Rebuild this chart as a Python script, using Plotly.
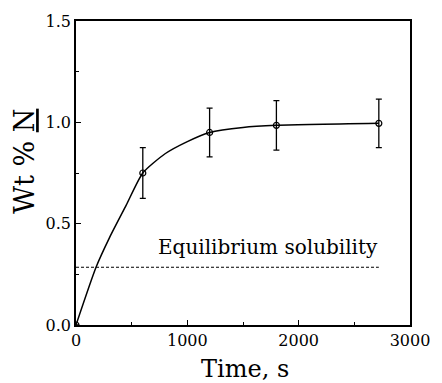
import plotly.graph_objects as go

# Measured data
time_s = [0, 600, 1200, 1800, 2720]
wt_n = [0.0, 0.75, 0.95, 0.985, 0.995]
err = [0.0, 0.125, 0.12, 0.122, 0.12]

# Fitted curve
curve_t = [0, 180, 300, 450, 600, 800, 1000, 1200, 1500, 1800, 2720]
curve_y = [0.0, 0.285, 0.43, 0.59, 0.75, 0.845, 0.905, 0.95, 0.975, 0.985, 0.995]

# Equilibrium solubility
eq_t = [0, 2720]
eq_y = [0.285, 0.285]

SERIF = "DejaVu Serif"
L, R, T, B = 76, 23, 13, 58
W, H = 442, 383
PW, PH = W - L - R, H - T - B


def px_to_paper(px, py):
    return (px - L) / PW, (H - B - py) / PH


fig = go.Figure()
fig.add_trace(go.Scatter(x=curve_t, y=curve_y, mode="lines",
                         line=dict(color="black", width=1.5, shape="spline", smoothing=0.6),
                         hoverinfo="skip", showlegend=False))
fig.add_trace(go.Scatter(x=eq_t, y=eq_y, mode="lines",
                         line=dict(color="black", width=1.2, dash="3px,2px"),
                         showlegend=False))
fig.add_trace(go.Scatter(x=time_s, y=wt_n, mode="markers",
                         marker=dict(symbol="circle-open", size=6, color="black", line=dict(width=1.2)),
                         error_y=dict(type="data", array=err, visible=True, color="black",
                                      thickness=1.3, width=3),
                         showlegend=False))

fig.add_annotation(x=2730, y=0.385, xref="x", yref="y", text="Equilibrium solubility",
                   showarrow=False, xanchor="right", yanchor="middle",
                   font=dict(family=SERIF, size=20, color="black"))

# Axis titles as annotations for precise placement
tx, ty = px_to_paper(250, 370)
fig.add_annotation(x=tx, y=ty, xref="paper", yref="paper", text="Time, s",
                   showarrow=False, xanchor="center", yanchor="middle",
                   font=dict(family=SERIF, size=24, color="black"))
yx, yy = px_to_paper(23, 157)
fig.add_annotation(x=yx, y=yy, xref="paper", yref="paper",
                   text="Wt\u00a0%\u00a0<u>N</u>", textangle=-90,
                   showarrow=False, xanchor="center", yanchor="middle",
                   font=dict(family=SERIF, size=27, color="black"))

axis_common = dict(showgrid=False, zeroline=False, showline=True, linecolor="black",
                   linewidth=1.5, mirror=True, ticks="inside", ticklen=5, tickwidth=1,
                   tickcolor="black", tickfont=dict(family=SERIF, size=16, color="black"))

fig.update_xaxes(range=[0, 3000], tickvals=[0, 1000, 2000, 3000],
                 minor=dict(tickvals=[500, 1500, 2500], ticks="inside", ticklen=3, tickcolor="black"),
                 **axis_common)
fig.update_yaxes(range=[0, 1.5], tickvals=[0, 0.5, 1.0, 1.5], ticktext=["0.0", "0.5", "1.0", "1.5"],
                 minor=dict(tickvals=[0.25, 0.75, 1.25], ticks="inside", ticklen=3, tickcolor="black"),
                 **axis_common)

fig.update_layout(width=W, height=H, margin=dict(l=L, r=R, t=T, b=B),
                  paper_bgcolor="white", plot_bgcolor="white")

fig.write_html("out.html")
